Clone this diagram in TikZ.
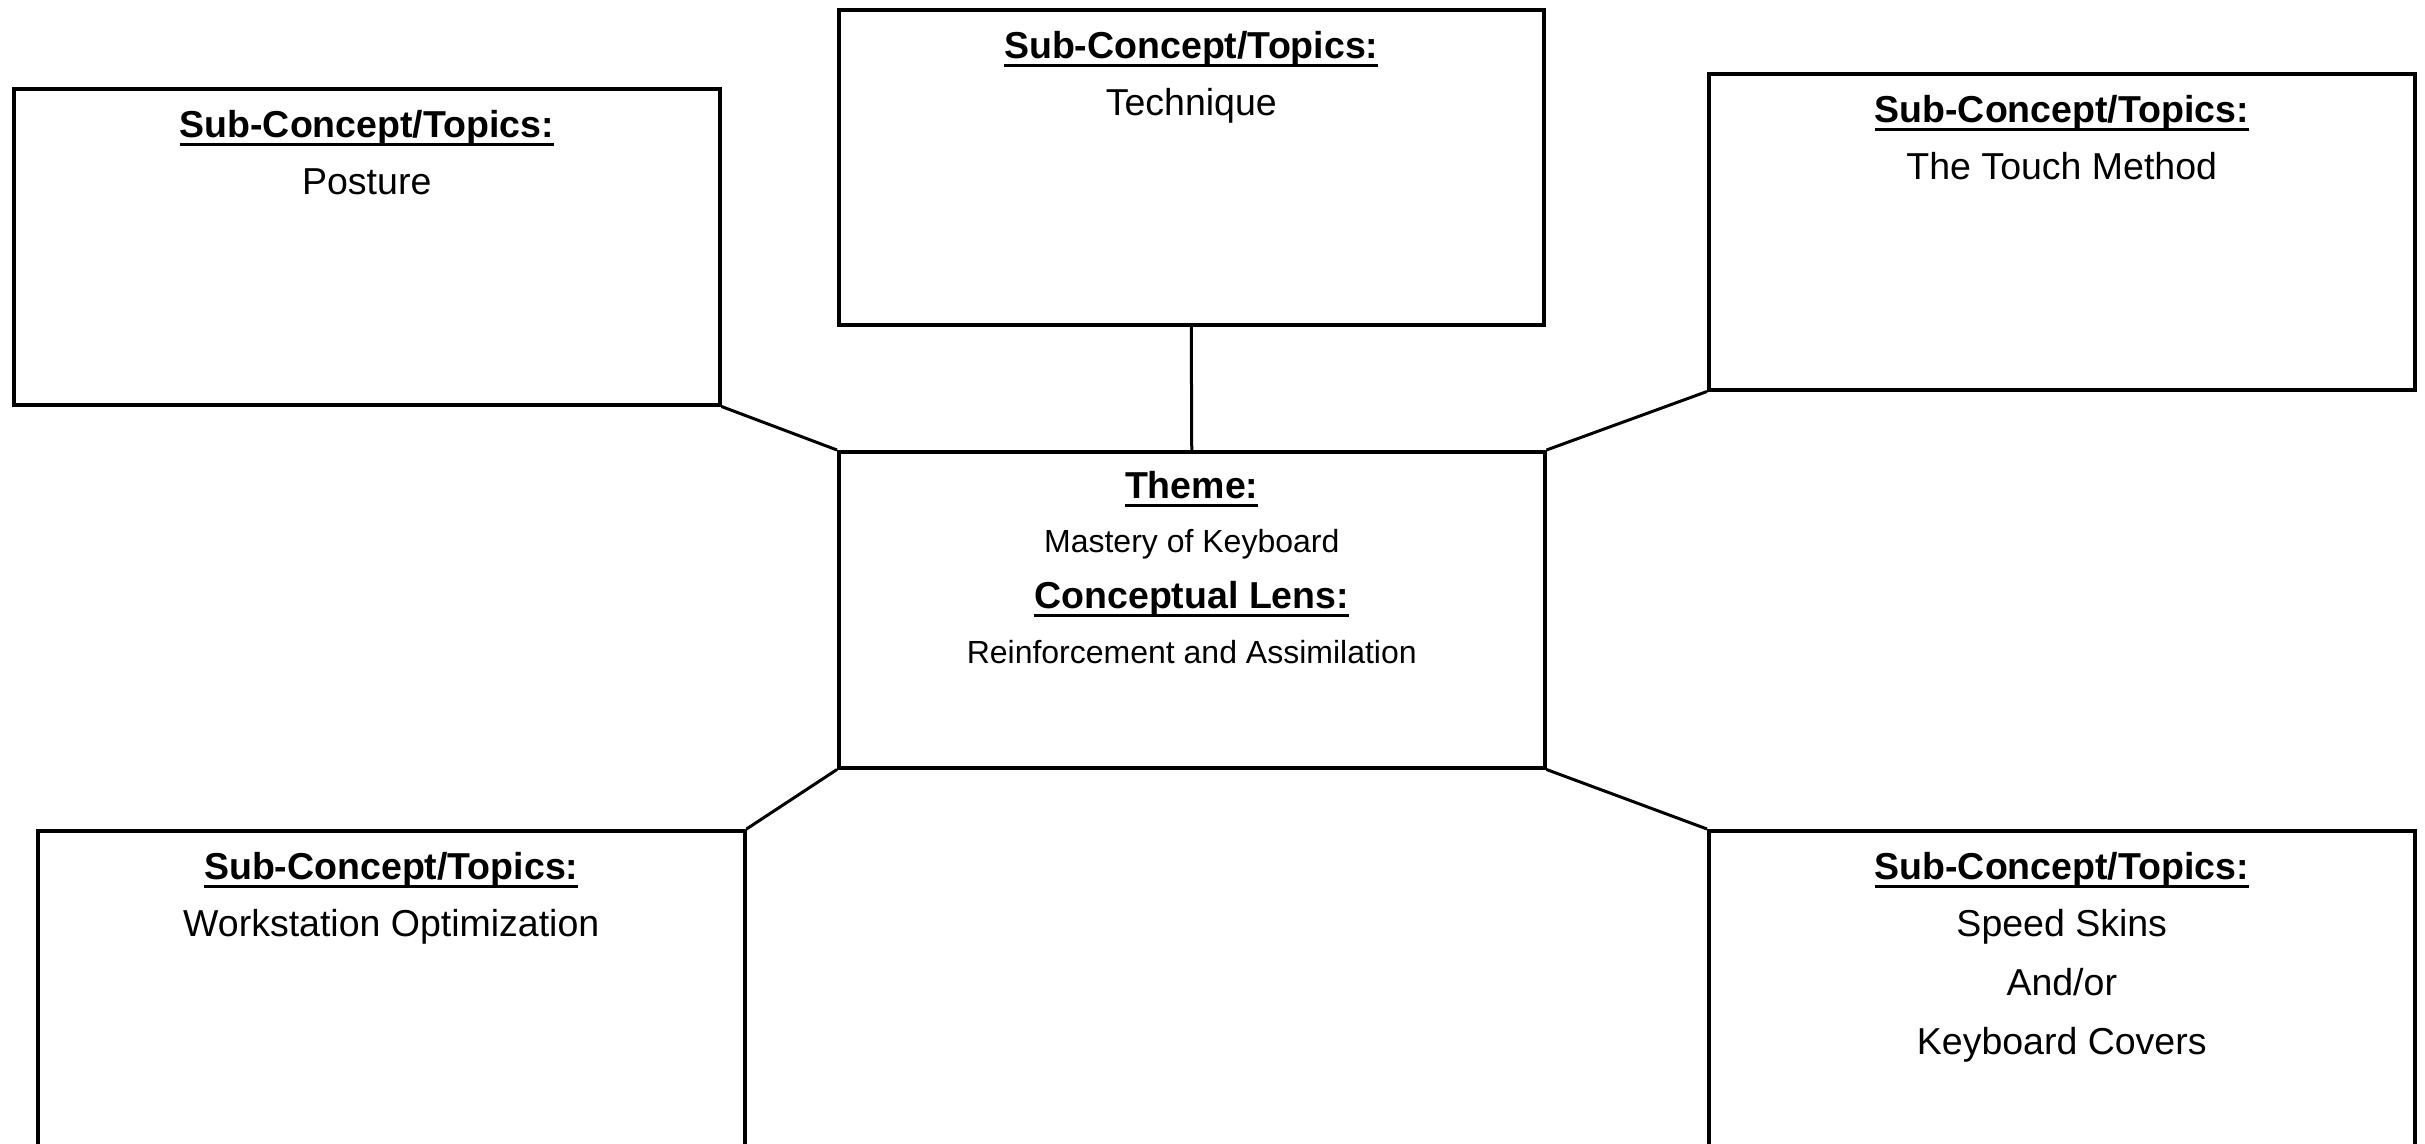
\documentclass[tikz,border=0pt]{standalone}
\usepackage{fontspec}
\setmainfont{Liberation Sans}
\newsavebox\ulbox
\newcommand\hdul[1]{\sbox\ulbox{#1}\rlap{\rule[-0.235em]{\wd\ulbox}{0.085em}}\usebox\ulbox}
\begin{document}
\begin{tikzpicture}[x=1pt,y=-1pt,
  topicbox/.style={draw,line width=3.5pt,rectangle,inner sep=0pt,anchor=north west,minimum width=706pt,minimum height=316pt},
  conn/.style={line width=3pt},
  hdtext/.style={anchor=base,inner sep=0pt,font=\fontsize{37.5}{44}\selectfont\bfseries},
  bodytext/.style={anchor=base,inner sep=0pt,font=\fontsize{37.5}{44}\selectfont},
  smalltext/.style={anchor=base,inner sep=0pt,font=\fontsize{32}{38}\selectfont}]
\useasboundingbox (0,0) rectangle (2425,1143);
\fill[white] (0,0) rectangle (2425,1143);
\begin{scope}
\clip (0,0) rectangle (2425,1143);
\node[topicbox] (post) at (12,87) {};
\node[topicbox,minimum width=705pt,minimum height=315pt] (tech) at (837,8) {};
\node[topicbox] (touch) at (1707,72) {};
\node[topicbox] (cent) at (837,450) {};
\node[topicbox,minimum width=707pt,minimum height=420pt] (work) at (36,829) {};
\node[topicbox,minimum height=420pt] (speed) at (1707,829) {};

\draw[conn] (post.south east) -- (cent.north west);
\draw[conn] (tech.south) -- (cent.north);
\draw[conn] (touch.south west) -- (cent.north east);
\draw[conn] (cent.south west) -- (work.north east);
\draw[conn] (cent.south east) -- (speed.north west);

\node[hdtext] (posth) at ([yshift=-50pt]post.north) {\hdul{Sub-Concept/Topics:}};
\node[bodytext] (postb) at ([yshift=-107pt]post.north) {Posture};
\node[hdtext] (techh) at ([yshift=-50pt]tech.north) {\hdul{Sub-Concept/Topics:}};
\node[bodytext] (techb) at ([yshift=-107pt]tech.north) {Technique};
\node[hdtext] (touchh) at ([yshift=-50pt]touch.north) {\hdul{Sub-Concept/Topics:}};
\node[bodytext] (touchb) at ([yshift=-107pt]touch.north) {The Touch Method};
\node[hdtext] (workh) at ([yshift=-50pt]work.north) {\hdul{Sub-Concept/Topics:}};
\node[bodytext] (workb) at ([yshift=-107pt]work.north) {Workstation Optimization};
\node[hdtext] (speedh) at ([yshift=-50pt]speed.north) {\hdul{Sub-Concept/Topics:}};
\node[bodytext] (speedb1) at ([yshift=-107pt]speed.north) {Speed Skins};
\node[bodytext] (speedb2) at ([yshift=-166pt]speed.north) {And/or};
\node[bodytext] (speedb3) at ([yshift=-225pt]speed.north) {Keyboard Covers};

\node[hdtext] (theme) at ([yshift=-48pt]cent.north) {\hdul{Theme:}};
\node[smalltext] (themeb) at ([yshift=-102pt]cent.north) {Mastery of Keyboard};
\node[hdtext] (lens) at ([yshift=-158pt]cent.north) {\hdul{Conceptual Lens:}};
\node[smalltext] (lensb) at ([yshift=-213pt]cent.north) {Reinforcement and Assimilation};
\end{scope}
\end{tikzpicture}
\end{document}
